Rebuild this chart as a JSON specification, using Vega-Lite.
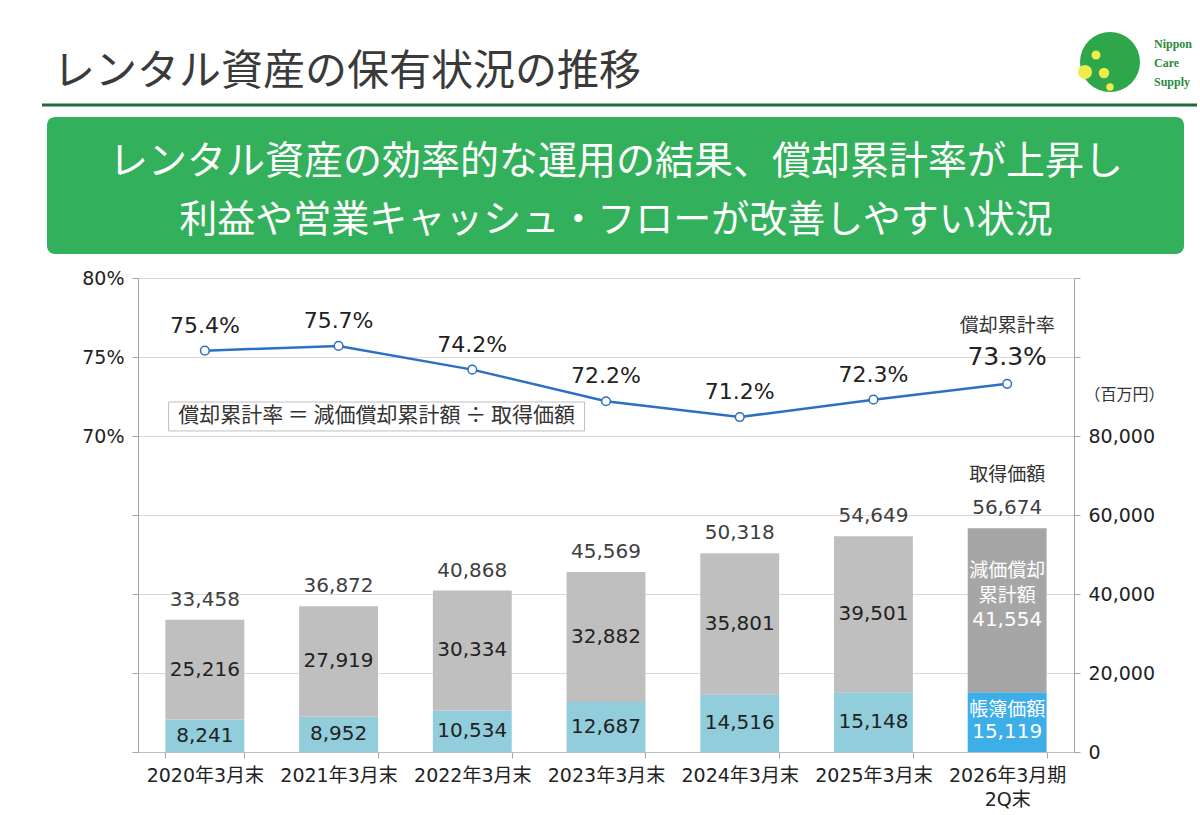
{
  "$schema": "https://vega.github.io/schema/vega-lite/v6.json",
  "padding": {"left": 40, "top": 29, "right": 3, "bottom": 5},
  "background": "white",
  "bounds": "flush",
  "spacing": 24,
  "config": {
    "view": {"stroke": null},
    "font": "DejaVu Sans, Noto Sans CJK JP",
    "text": {"font": "DejaVu Sans, Noto Sans CJK JP"}
  },
  "datasets": {
    "header": [
      {"part": "title", "text": "レンタル資産の保有状況の推移"},
      {"part": "banner1", "text": "レンタル資産の効率的な運用の結果、償却累計率が上昇し"},
      {"part": "banner2", "text": "利益や営業キャッシュ・フローが改善しやすい状況"},
      {"part": "logo", "text": "Nippon\nCare\nSupply"}
    ],
    "assets": [
      {"period": "2020年3月末", "item": "帳簿価額", "value": 8241},
      {"period": "2020年3月末", "item": "減価償却累計額", "value": 25216},
      {"period": "2021年3月末", "item": "帳簿価額", "value": 8952},
      {"period": "2021年3月末", "item": "減価償却累計額", "value": 27919},
      {"period": "2022年3月末", "item": "帳簿価額", "value": 10534},
      {"period": "2022年3月末", "item": "減価償却累計額", "value": 30334},
      {"period": "2023年3月末", "item": "帳簿価額", "value": 12687},
      {"period": "2023年3月末", "item": "減価償却累計額", "value": 32882},
      {"period": "2024年3月末", "item": "帳簿価額", "value": 14516},
      {"period": "2024年3月末", "item": "減価償却累計額", "value": 35801},
      {"period": "2025年3月末", "item": "帳簿価額", "value": 15148},
      {"period": "2025年3月末", "item": "減価償却累計額", "value": 39501},
      {"period": "2026年3月期2Q末", "item": "帳簿価額", "value": 15119},
      {"period": "2026年3月期2Q末", "item": "減価償却累計額", "value": 41554}
    ],
    "totals": [
      {"period": "2020年3月末", "total": 33458},
      {"period": "2021年3月末", "total": 36872},
      {"period": "2022年3月末", "total": 40868},
      {"period": "2023年3月末", "total": 45569},
      {"period": "2024年3月末", "total": 50318},
      {"period": "2025年3月末", "total": 54649},
      {"period": "2026年3月期2Q末", "total": 56674}
    ],
    "rates": [
      {"period": "2020年3月末", "rate": 0.754},
      {"period": "2021年3月末", "rate": 0.757},
      {"period": "2022年3月末", "rate": 0.742},
      {"period": "2023年3月末", "rate": 0.722},
      {"period": "2024年3月末", "rate": 0.712},
      {"period": "2025年3月末", "rate": 0.723},
      {"period": "2026年3月期2Q末", "rate": 0.733}
    ]
  },
  "vconcat": [
    {
      "width": 936,
      "height": 225,
      "data": {"name": "header"},
      "layer": [
        {
          "mark": {"type": "rule", "stroke": "#1f6b3a", "strokeWidth": 3},
          "transform": [{"filter": "datum.part === 'title'"}],
          "encoding": {
            "x": {"datum": -96, "type": "quantitative", "scale": {"domain": [0, 936], "nice": false, "zero": false}, "axis": null},
            "x2": {"datum": 1059},
            "y": {"datum": 76, "type": "quantitative", "scale": {"domain": [0, 225], "nice": false, "zero": false, "reverse": true}, "axis": null}
          }
        },
        {
          "mark": {"type": "text", "align": "left", "baseline": "middle", "fontSize": 42, "color": "#3a3a3a", "font": "Noto Sans CJK JP"},
          "transform": [{"filter": "datum.part === 'title'"}],
          "encoding": {
            "x": {"datum": -85, "type": "quantitative"},
            "y": {"datum": 43, "type": "quantitative"},
            "text": {"field": "text"}
          }
        },
        {
          "mark": {"type": "rect", "fill": "#33b05b", "cornerRadius": 8},
          "transform": [{"filter": "datum.part === 'title'"}],
          "encoding": {
            "x": {"datum": -91, "type": "quantitative"},
            "x2": {"datum": 1046},
            "y": {"datum": 88, "type": "quantitative"},
            "y2": {"datum": 225}
          }
        },
        {
          "mark": {"type": "text", "align": "center", "baseline": "middle", "fontSize": 39, "color": "white", "font": "Noto Sans CJK JP"},
          "transform": [{"filter": "datum.part === 'banner1'"}],
          "encoding": {
            "x": {"datum": 478, "type": "quantitative"},
            "y": {"datum": 133, "type": "quantitative"},
            "text": {"field": "text"}
          }
        },
        {
          "mark": {"type": "text", "align": "center", "baseline": "middle", "fontSize": 38, "color": "white", "font": "Noto Sans CJK JP"},
          "transform": [{"filter": "datum.part === 'banner2'"}],
          "encoding": {
            "x": {"datum": 478, "type": "quantitative"},
            "y": {"datum": 192, "type": "quantitative"},
            "text": {"field": "text"}
          }
        },
        {
          "mark": {"type": "point", "shape": "circle", "filled": true, "color": "#2ea64a", "opacity": 1, "size": 3600},
          "transform": [{"filter": "datum.part === 'logo'"}],
          "encoding": {
            "x": {"datum": 972, "type": "quantitative"},
            "y": {"datum": 33, "type": "quantitative"}
          }
        },
        {
          "mark": {"type": "point", "shape": "circle", "filled": true, "color": "#f0ec4c", "opacity": 1, "size": 200},
          "transform": [{"filter": "datum.part === 'logo'"}],
          "encoding": {
            "x": {"datum": 947, "type": "quantitative"},
            "y": {"datum": 43, "type": "quantitative"}
          }
        },
        {
          "mark": {"type": "point", "shape": "circle", "filled": true, "color": "#f0ec4c", "opacity": 1, "size": 80},
          "transform": [{"filter": "datum.part === 'logo'"}],
          "encoding": {
            "x": {"datum": 958, "type": "quantitative"},
            "y": {"datum": 26, "type": "quantitative"}
          }
        },
        {
          "mark": {"type": "point", "shape": "circle", "filled": true, "color": "#f0ec4c", "opacity": 1, "size": 110},
          "transform": [{"filter": "datum.part === 'logo'"}],
          "encoding": {
            "x": {"datum": 966, "type": "quantitative"},
            "y": {"datum": 44, "type": "quantitative"}
          }
        },
        {
          "mark": {"type": "point", "shape": "circle", "filled": true, "color": "#f0ec4c", "opacity": 1, "size": 55},
          "transform": [{"filter": "datum.part === 'logo'"}],
          "encoding": {
            "x": {"datum": 972, "type": "quantitative"},
            "y": {"datum": 58, "type": "quantitative"}
          }
        },
        {
          "mark": {"type": "text", "align": "left", "baseline": "middle", "fontSize": 12, "fontWeight": "bold", "font": "Liberation Serif", "color": "#2a8a3e", "lineBreak": "\n", "lineHeight": 19},
          "transform": [{"filter": "datum.part === 'logo'"}],
          "encoding": {
            "x": {"datum": 1016, "type": "quantitative"},
            "y": {"datum": 15, "type": "quantitative"},
            "text": {"field": "text"}
          }
        }
      ]
    },
    {
      "width": 936,
      "height": 474,
      "encoding": {
        "x": {
          "field": "period",
          "type": "nominal",
          "sort": null,
          "scale": {"paddingInner": 0.41, "paddingOuter": 0.205},
          "axis": {
            "title": null,
            "labelAngle": 0,
            "labelFontSize": 19,
            "labelColor": "#222",
            "labelPadding": 8,
            "labelLineHeight": 24,
            "tickBand": "extent",
            "tickSize": 6,
            "tickColor": "#a6a6a6",
            "domainColor": "#bfbfbf",
            "labelExpr": "datum.label == '2026年3月期2Q末' ? ['2026年3月期', '2Q末'] : datum.label"
          }
        }
      },
      "layer": [
        {
          "layer": [
            {
              "data": {"name": "assets"},
              "mark": {"type": "bar"},
              "transform": [{"filter": "datum.period !== '2026年3月期2Q末'"}],
              "encoding": {
                "y": {
                  "field": "value",
                  "type": "quantitative",
                  "stack": "zero",
                  "scale": {"domain": [0, 120000], "nice": false},
                  "axis": {
                    "orient": "right",
                    "values": [0, 20000, 40000, 60000, 80000, 100000, 120000],
                    "labelExpr": "datum.value > 80000 ? '' : format(datum.value, ',')",
                    "grid": true,
                    "gridColor": "#d9d9d9",
                    "tickSize": 6,
                    "tickColor": "#a6a6a6",
                    "domainColor": "#a6a6a6",
                    "labelFontSize": 19,
                    "labelColor": "#222",
                    "labelPadding": 8,
                    "title": "（百万円）",
                    "titleAngle": 0,
                    "titleFontSize": 16,
                    "titleFontWeight": "normal",
                    "titleColor": "#333",
                    "titleAlign": "center",
                    "titleBaseline": "middle",
                    "titleX": 50,
                    "titleY": 116
                  }
                },
                "color": {
                  "field": "item",
                  "type": "nominal",
                  "scale": {"domain": ["帳簿価額", "減価償却累計額"], "range": ["#92cddc", "#bfbfbf"]},
                  "legend": null
                },
                "order": {"field": "item", "sort": "ascending"}
              }
            },
            {
              "data": {"name": "assets"},
              "mark": {"type": "bar"},
              "transform": [{"filter": "datum.period === '2026年3月期2Q末'"}],
              "encoding": {
                "y": {"field": "value", "type": "quantitative", "stack": "zero"},
                "detail": {"field": "item"},
                "fill": {"condition": {"test": "datum.item === '帳簿価額'", "value": "#3eaee8"}, "value": "#a6a6a6"},
                "order": {"field": "item", "sort": "ascending"}
              }
            },
            {
              "data": {"name": "assets"},
              "mark": {"type": "text", "fontSize": 20, "color": "#222", "baseline": "middle"},
              "transform": [{"filter": "datum.period !== '2026年3月期2Q末'"}],
              "encoding": {
                "y": {"field": "value", "type": "quantitative", "stack": "zero", "bandPosition": 0.5},
                "detail": {"field": "item"},
                "order": {"field": "item", "sort": "ascending"},
                "text": {"field": "value", "format": ","}
              }
            },
            {
              "data": {"name": "assets"},
              "mark": {"type": "text", "fontSize": 20, "color": "white", "baseline": "middle"},
              "transform": [{"filter": "datum.period === '2026年3月期2Q末'"}],
              "encoding": {
                "y": {"field": "value", "type": "quantitative", "stack": "zero", "bandPosition": 0.5},
                "yOffset": {"condition": {"test": "datum.item === '帳簿価額'", "value": 12}, "value": 10},
                "detail": {"field": "item"},
                "order": {"field": "item", "sort": "ascending"},
                "text": {"field": "value", "format": ","}
              }
            },
            {
              "data": {"name": "assets"},
              "mark": {"type": "text", "fontSize": 19, "color": "white", "baseline": "middle", "dy": -12, "font": "Noto Sans CJK JP"},
              "transform": [{"filter": "datum.period === '2026年3月期2Q末'"}],
              "encoding": {
                "y": {"field": "value", "type": "quantitative", "stack": "zero", "bandPosition": 0.5},
                "detail": {"field": "item"},
                "order": {"field": "item", "sort": "ascending"},
                "text": {"condition": {"test": "datum.item === '帳簿価額'", "value": "帳簿価額"}, "value": ""}
              }
            },
            {
              "data": {"name": "assets"},
              "mark": {"type": "text", "fontSize": 19, "color": "white", "baseline": "middle", "dy": -39, "font": "Noto Sans CJK JP"},
              "transform": [{"filter": "datum.period === '2026年3月期2Q末'"}],
              "encoding": {
                "y": {"field": "value", "type": "quantitative", "stack": "zero", "bandPosition": 0.5},
                "detail": {"field": "item"},
                "order": {"field": "item", "sort": "ascending"},
                "text": {"condition": {"test": "datum.item === '減価償却累計額'", "value": "減価償却"}, "value": ""}
              }
            },
            {
              "data": {"name": "assets"},
              "mark": {"type": "text", "fontSize": 19, "color": "white", "baseline": "middle", "dy": -14, "font": "Noto Sans CJK JP"},
              "transform": [{"filter": "datum.period === '2026年3月期2Q末'"}],
              "encoding": {
                "y": {"field": "value", "type": "quantitative", "stack": "zero", "bandPosition": 0.5},
                "detail": {"field": "item"},
                "order": {"field": "item", "sort": "ascending"},
                "text": {"condition": {"test": "datum.item === '減価償却累計額'", "value": "累計額"}, "value": ""}
              }
            },
            {
              "data": {"name": "totals"},
              "mark": {"type": "text", "fontSize": 20, "color": "#404040", "baseline": "middle", "dy": -20},
              "encoding": {
                "y": {"field": "total", "type": "quantitative"},
                "text": {"field": "total", "format": ","}
              }
            },
            {
              "data": {"name": "totals"},
              "mark": {"type": "text", "fontSize": 19, "color": "#333", "baseline": "middle", "dy": -53, "font": "Noto Sans CJK JP"},
              "transform": [{"filter": "datum.period === '2026年3月期2Q末'"}],
              "encoding": {
                "y": {"field": "total", "type": "quantitative"},
                "text": {"value": "取得価額"}
              }
            }
          ]
        },
        {
          "data": {"name": "rates"},
          "encoding": {
            "y": {
              "field": "rate",
              "type": "quantitative",
              "scale": {"domain": [0.5, 0.8], "nice": false, "zero": false},
              "axis": {
                "orient": "left",
                "values": [0.5, 0.55, 0.6, 0.65, 0.7, 0.75, 0.8],
                "labelExpr": "datum.value >= 0.695 ? format(datum.value, '.0%') : ''",
                "grid": false,
                "tickSize": 6,
                "tickColor": "#a6a6a6",
                "domainColor": "#a6a6a6",
                "labelFontSize": 19,
                "labelColor": "#222",
                "labelPadding": 8,
                "title": null
              }
            }
          },
          "layer": [
            {
              "mark": {"type": "rect", "fill": "white", "stroke": "#bfbfbf", "strokeWidth": 1, "width": 416, "xOffset": 38},
              "transform": [{"filter": "datum.period === '2021年3月末'"}],
              "encoding": {
                "y": {"datum": 0.7215, "type": "quantitative"},
                "y2": {"datum": 0.7032}
              }
            },
            {
              "mark": {"type": "text", "fontSize": 21, "color": "#333", "baseline": "middle", "align": "center", "dx": 38, "font": "Noto Sans CJK JP"},
              "transform": [{"filter": "datum.period === '2021年3月末'"}],
              "encoding": {
                "y": {"datum": 0.7127, "type": "quantitative"},
                "text": {"value": "償却累計率 ＝ 減価償却累計額 ÷ 取得価額"}
              }
            },
            {
              "mark": {"type": "line", "color": "#2e70c0", "strokeWidth": 2.5}
            },
            {
              "mark": {"type": "point", "filled": true, "fill": "white", "stroke": "#2e70c0", "strokeWidth": 1.5, "size": 75, "opacity": 1}
            },
            {
              "mark": {"type": "text", "fontSize": 22, "color": "#222", "baseline": "middle", "dy": -25},
              "transform": [{"filter": "datum.period !== '2026年3月期2Q末'"}],
              "encoding": {"text": {"field": "rate", "format": ".1%"}}
            },
            {
              "mark": {"type": "text", "fontSize": 25, "color": "#222", "baseline": "middle", "dy": -27},
              "transform": [{"filter": "datum.period === '2026年3月期2Q末'"}],
              "encoding": {"text": {"field": "rate", "format": ".1%"}}
            },
            {
              "mark": {"type": "text", "fontSize": 19, "color": "#333", "baseline": "middle", "dy": -58, "font": "Noto Sans CJK JP"},
              "transform": [{"filter": "datum.period === '2026年3月期2Q末'"}],
              "encoding": {"text": {"value": "償却累計率"}}
            }
          ]
        }
      ],
      "resolve": {"scale": {"y": "independent"}}
    }
  ]
}
